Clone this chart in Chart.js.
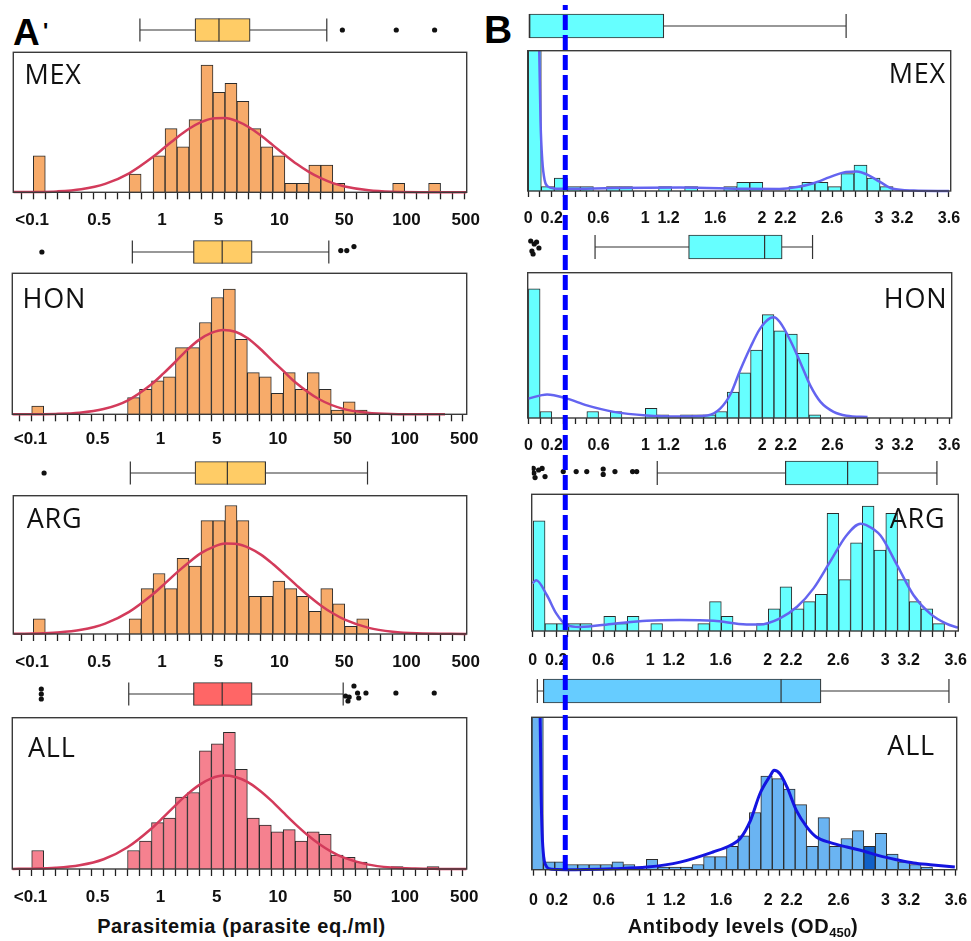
<!DOCTYPE html>
<html>
<head>
<meta charset="utf-8">
<script src="https://cdn.jsdelivr.net/npm/chart.js@4.4.1/dist/chart.umd.min.js"></script>
<style>
    body { margin: 0; background: #fff; }
    #figura { position: relative; width: 971px; height: 941px; overflow: hidden; }
    #figura canvas { position: absolute; }
    .texto { position: absolute; line-height: 1; white-space: nowrap; color: #111; }
    .letra { font-family: 'Liberation Sans', Arial, sans-serif; font-weight: bold; color: #000; }
    .panel { font-family: 'Open Sans', sans-serif; font-size: 27px; letter-spacing: 0.8px; }
    .titulo { font-family: 'Liberation Sans', Arial, sans-serif; font-weight: bold; font-size: 20px; letter-spacing: 0.6px; transform: translateX(-50%); }
    .titulo sub { font-size: 13px; line-height: 0; vertical-align: -4px; letter-spacing: 0; }
</style>
</head>
<body>
<div id="figura">
    <div class="texto letra" style="left:13px; top:13.7px; font-size:37px;">A</div>
    <div class="texto letra" style="left:43px; top:20px; font-size:22px;">'</div>
    <div class="texto letra" style="left:484px; top:10px; font-size:39px;">B</div>
</div>
<script>
// ---- parasitemia histograms (left), one value per bin, bin 0 is "<0.1"
const parasitemiaTickLabels = ['<0.1', '0.5', '1', '5', '10', '50', '100', '500'];
const mexParasitemia = [4, 0, 0, 0, 0, 0, 0, 0, 2, 0, 4, 7, 5, 8, 14, 11, 12, 10, 7, 5, 4, 1, 1, 3, 3, 1, 0, 0, 0, 0, 1, 0, 0, 1, 0, 0, 0];
const honParasitemia = [2, 0, 0, 0, 0, 0, 0, 0, 4, 6, 8, 9, 16, 16, 22, 28, 30, 18, 10, 9, 5, 10, 6, 10, 6, 1, 3, 1, 0, 0, 0, 0, 0, 0, 0, 0, 0];
const argParasitemia = [2, 0, 0, 0, 0, 0, 0, 0, 2, 6, 8, 6, 10, 9, 15, 15, 17, 15, 5, 5, 7, 6, 5, 3, 6, 4, 1, 2, 0, 0, 0, 0, 0, 0, 0, 0, 0];
const allParasitemia = [8, 0, 0, 0, 0, 0, 0, 0, 8, 12, 20, 22, 31, 33, 51, 54, 59, 43, 22, 19, 16, 17, 12, 16, 15, 6, 5, 3, 0, 0, 1, 0, 0, 1, 0, 0, 0];

const mexParasitemiaFitX = [-1.67, 0, 2, 4, 6, 8, 10, 11, 12, 13, 14, 15, 16, 17, 18, 19, 20, 21, 22, 23, 24, 25, 26, 28, 30, 33, 36.18];
const mexParasitemiaFitY = [0.02, 0.03, 0.1, 0.34, 0.93, 2.09, 3.9, 4.98, 6.04, 6.99, 7.72, 8.13, 8.17, 7.83, 7.16, 6.24, 5.19, 4.12, 3.11, 2.25, 1.55, 1.01, 0.64, 0.22, 0.06, 0.01, 0];
const honParasitemiaFitX = [-1.62, 2, 4, 6, 8, 10, 11, 12, 13, 14, 15, 16, 17, 18, 19, 20, 21, 22, 24, 26, 28, 30, 34.5];
const honParasitemiaFitY = [0, 0.09, 0.36, 1.25, 3.3, 7.2, 9.8, 12.6, 15.5, 17.9, 19.5, 20.2, 19.8, 18.3, 15.9, 13.1, 10.4, 7.7, 3.6, 1.3, 0.4, 0.1, 0];
const argParasitemiaFitX = [-1.67, 0, 2, 4, 6, 8, 10, 11, 12, 13, 14, 15, 16, 17, 18, 19, 20, 21, 22, 23, 24, 25, 26, 28, 30, 32, 36.18];
const argParasitemiaFitY = [0.02, 0.06, 0.19, 0.55, 1.38, 2.93, 5.29, 6.7, 8.15, 9.5, 10.7, 11.5, 11.96, 11.9, 11.4, 10.5, 9.26, 7.86, 6.41, 5.02, 3.78, 2.74, 1.9, 0.81, 0.3, 0.09, 0];
const allParasitemiaFitX = [-1.62, 0, 2, 4, 6, 8, 10, 11, 12, 13, 14, 15, 16, 17, 18, 19, 20, 21, 22, 23, 24, 25, 26, 28, 30, 32, 34, 36.31];
const allParasitemiaFitY = [0.04, 0.14, 0.51, 1.6, 4.2, 9.4, 17.5, 22.4, 27.5, 32.3, 36.3, 39.1, 40.3, 39.7, 37.6, 34.0, 29.5, 24.4, 19.4, 14.8, 10.8, 7.5, 5.0, 2.0, 0.65, 0.18, 0.04, 0];

// [whisker low, q1, median, q3, whisker high]
const mexParasitemiaBox = [8.9, 13.5, 15.5, 18.1, 24.5];
const honParasitemiaBox = [8.4, 13.5, 15.9, 18.4, 24.8];
const argParasitemiaBox = [8.1, 13.5, 16.2, 19.4, 27.9];
const allParasitemiaBox = [8.1, 13.5, 15.9, 18.4, 26.0];
const mexParasitemiaOutliers = [25.8, 30.3, 33.5];
const mexParasitemiaJitter = [0, 0, 0];
const honParasitemiaOutliers = [0.85, 25.8, 26.3, 26.9];
const honParasitemiaJitter = [0, 0.07, 0.07, 0.27];
const argParasitemiaOutliers = [0.9];
const argParasitemiaJitter = [0];
const allParasitemiaOutliers = [0.8, 0.8, 0.8, 26.2, 26.4, 26.5, 26.9, 27.2, 27.3, 27.9, 30.4, 33.6];
const allParasitemiaJitter = [0.25, 0, -0.25, -0.1, -0.35, -0.15, 0.4, 0.05, -0.2, 0.05, 0.05, 0.05];

// ---- antibody histograms (right)
const antibodyTickLabels = ['0', '0.2', '0.6', '1', '1.2', '1.6', '2', '2.2', '2.6', '3', '3.2', '3.6'];
const mexAntibody = [45, 1, 3, 1, 1, 0, 1, 1, 0, 0, 1, 0, 1, 0, 0, 1, 2, 2, 0, 0, 1, 2, 2, 1, 4, 6, 3, 1, 0, 0, 0, 0];
const honAntibody = [40, 2, 0, 0, 0, 2, 0, 2, 0, 0, 3, 1, 0, 1, 1, 1, 2, 8, 14, 21, 32, 27, 26, 20, 1, 0, 0, 0, 0, 0, 0, 0, 0, 0, 0, 0];
const argAntibody = [15, 1, 1, 1, 1, 0, 2, 1, 2, 0, 1, 0, 0, 0, 1, 4, 2, 0, 0, 1, 3, 6, 3, 4, 5, 16, 7, 12, 17, 11, 16, 7, 4, 3, 1, 0];
const allAntibody = [100, 3, 3, 2, 2, 2, 2, 3, 2, 0, 4, 1, 1, 1, 2, 5, 5, 9, 13, 22, 36, 35, 31, 25, 9, 20, 9, 12, 15, 9, 14, 6, 3, 2, 1];

const mexAntibodyFitX = [0.06, 0.085, 0.094, 0.105, 0.12, 0.14, 0.17, 0.22, 0.33, 0.73, 1.3, 1.87, 2.15, 2.3, 2.44, 2.58, 2.72, 2.81, 2.9, 3.01, 3.12, 3.3, 3.6];
const mexAntibodyFitY = [80, 50, 32, 16, 7, 2.5, 1.0, 0.6, 0.5, 0.7, 0.8, 0.5, 0.45, 0.9, 1.8, 3.2, 4.4, 4.5, 3.8, 2.1, 0.5, 0.1, 0];
const honAntibodyFitX = [0, 0.16, 0.33, 0.5, 0.73, 1.01, 1.3, 1.53, 1.64, 1.73, 1.81, 1.9, 1.98, 2.07, 2.1, 2.15, 2.24, 2.33, 2.41, 2.5, 2.61, 2.72, 2.9];
const honAntibodyFitY = [6.0, 7.3, 6.0, 3.9, 1.9, 0.8, 0.5, 0.8, 2.9, 7.5, 14.7, 22, 27.6, 31, 31.2, 29.7, 24, 16.8, 10.1, 4.9, 1.9, 0.7, 0.3];
const argAntibodyFitX = [0.0, 0.03, 0.12, 0.2, 0.29, 0.4, 0.69, 0.97, 1.25, 1.54, 1.82, 1.93, 2.1, 2.25, 2.39, 2.53, 2.67, 2.79, 2.84, 2.96, 3.1, 3.24, 3.38, 3.52, 3.62];
const argAntibodyFitY = [6.5, 6.9, 4.9, 2.4, 0.8, 0.55, 1.0, 1.4, 1.5, 1.4, 0.9, 0.9, 1.7, 3.3, 5.8, 9.4, 13.0, 14.6, 14.4, 13.0, 9.0, 4.9, 2.4, 1.0, 0.45];
const allAntibodyFitX = [0.05, 0.058, 0.066, 0.075, 0.088, 0.105, 0.13, 0.2, 0.28, 0.68, 0.97, 1.25, 1.53, 1.68, 1.76, 1.85, 1.93, 2.02, 2.05, 2.1, 2.16, 2.24, 2.33, 2.41, 2.53, 2.67, 2.81, 2.95, 3.1, 3.24, 3.38, 3.59];
const allAntibodyFitY = [100, 58.5, 30, 14, 5, 1.8, 0.4, 0.05, 0, 0.4, 1.0, 2.9, 6.8, 9.4, 11.9, 19, 29.2, 36.3, 38.2, 36.9, 31.8, 22.8, 16.4, 12.6, 10.4, 8.7, 7.2, 5.3, 3.8, 2.6, 1.9, 1.0];

const mexAntibodyBox = [0.01, 0.01, 0.01, 1.16, 2.72];
const honAntibodyBox = [0.57, 1.37, 2.02, 2.17, 2.43];
const argAntibodyBox = [1.06, 2.15, 2.68, 2.94, 3.44];
const allAntibodyBox = [0.034, 0.085, 2.11, 2.45, 3.54];
const honAntibodyOutliers = [0.02, 0.03, 0.05, 0.07, 0.09, 0.04];
const honAntibodyJitter = [0.3, -0.2, 0.15, 0.25, -0.05, -0.35];
const argAntibodyOutliers = [0.005, 0.01, 0.02, 0.05, 0.08, 0.105, 0.26, 0.37, 0.46, 0.6, 0.6, 0.7, 0.85, 0.885];
const argAntibodyJitter = [0.23, 0, -0.23, 0.15, 0.23, -0.18, 0.07, 0.07, 0.07, 0.2, -0.07, 0.07, 0.07, 0.07];

const antibodyCutoff = 0.3165;

Chart.defaults.font.family = 'Liberation Sans';

const figura = document.getElementById('figura');

// marco alrededor del area de dibujo
const marcoPlugin = {
    id: 'marco',
    afterDatasetsDraw: function (chart, args, opts) {
        if (!opts.mostrar) {
            return;
        }
        let a = chart.chartArea;
        let ctx = chart.ctx;
        ctx.save();
        ctx.strokeStyle = '#3a3a3a';
        ctx.lineWidth = 1.4;
        ctx.strokeRect(a.left, a.top, a.right - a.left, a.bottom - a.top);
        ctx.restore();
    }
};

const panelesA = [
    { nombre: 'MEX', conteos: mexParasitemia, ajX: mexParasitemiaFitX, ajY: mexParasitemiaFitY, caja: mexParasitemiaBox, atipicos: mexParasitemiaOutliers, jitter: mexParasitemiaJitter,
      barra: '#F7AB6A', colorCaja: '#FFCC66', yMax: 15.4, marco: [13.3, 466.7, 52.3, 192.3], xMin: -1.67, xMax: 36.18, cajaY: 30, texto: [24.4, 59.5], pad: 11 },
    { nombre: 'HON', conteos: honParasitemia, ajX: honParasitemiaFitX, ajY: honParasitemiaFitY, caja: honParasitemiaBox, atipicos: honParasitemiaOutliers, jitter: honParasitemiaJitter,
      barra: '#F7AB6A', colorCaja: '#FFCC66', yMax: 33.8, marco: [12.3, 466.7, 273.3, 414.3], xMin: -1.62, xMax: 36.31, cajaY: 252, texto: [22.6, 284.2], pad: 8 },
    { nombre: 'ARG', conteos: argParasitemia, ajX: argParasitemiaFitX, ajY: argParasitemiaFitY, caja: argParasitemiaBox, atipicos: argParasitemiaOutliers, jitter: argParasitemiaJitter,
      barra: '#F7AB6A', colorCaja: '#FFCC66', yMax: 18.3, marco: [13.3, 466.7, 495.7, 634], xMin: -1.67, xMax: 36.18, cajaY: 473, texto: [26.7, 504.2], pad: 11 },
    { nombre: 'ALL', conteos: allParasitemia, ajX: allParasitemiaFitX, ajY: allParasitemiaFitY, caja: allParasitemiaBox, atipicos: allParasitemiaOutliers, jitter: allParasitemiaJitter,
      barra: '#F5818F', colorCaja: '#FF6666', yMax: 65.3, marco: [12.3, 466.7, 717.7, 869], xMin: -1.62, xMax: 36.31, cajaY: 694, texto: [28, 733.2], pad: 11 }
];

const panelesB = [
    { nombre: 'MEX', conteos: mexAntibody, inicio: 0, ancho: 0.1115, ajX: mexAntibodyFitX, ajY: mexAntibodyFitY, caja: mexAntibodyBox, atipicos: [], jitter: [],
      barra: '#66FFFF', colorCaja: '#66FFFF', curva: '#6464F0', yMax: 32.4, marco: [527.7, 950.7, 50.7, 191], xMin: -0.005, xMax: 3.615, cajaY: 26, texto: [25, 59.2], pad: 12 },
    { nombre: 'HON', conteos: honAntibody, inicio: 0, ancho: 0.1, ajX: honAntibodyFitX, ajY: honAntibodyFitY, caja: honAntibodyBox, atipicos: honAntibodyOutliers, jitter: honAntibodyJitter,
      barra: '#66FFFF', colorCaja: '#66FFFF', curva: '#6464F0', yMax: 45, marco: [527.7, 951.7, 272.7, 418], xMin: -0.006, xMax: 3.62, cajaY: 247, texto: [23.7, 284.2], pad: 12 },
    { nombre: 'ARG', conteos: argAntibody, inicio: 0.005, ancho: 0.1, ajX: argAntibodyFitX, ajY: argAntibodyFitY, caja: argAntibodyBox, atipicos: argAntibodyOutliers, jitter: argAntibodyJitter,
      barra: '#66FFFF', colorCaja: '#66FFFF', curva: '#6464F0', yMax: 18.6, marco: [531.7, 958.3, 494.3, 631], xMin: -0.0085, xMax: 3.622, cajaY: 473, texto: [25.5, 504.2], pad: 14 },
    { nombre: 'ALL', conteos: allAntibody, inicio: -0.0125, ancho: 0.0975, ajX: allAntibodyFitX, ajY: allAntibodyFitY, caja: allAntibodyBox, atipicos: [], jitter: [],
      barra: '#6AB4F2', colorCaja: '#66CCFF', curva: '#1414E0', resaltado: 29, yMax: 58.6, marco: [531.7, 956.7, 717.3, 869.7], xMin: -0.014, xMax: 3.606, cajaY: 691, texto: [36, 731.2], pad: 15 }
];

function crearCanvas(left, top, width, height) {
    let canvas = document.createElement('canvas');
    canvas.width = width;
    canvas.height = height;
    canvas.style.left = left + 'px';
    canvas.style.top = top + 'px';
    canvas.style.width = width + 'px';
    canvas.style.height = height + 'px';
    figura.appendChild(canvas);
    return canvas;
}

function ticksParasitemia() {
    let lista = [];
    for (let k = -1; k <= 36; k++) {
        lista.push({ value: k, marca: true });
    }
    // posiciones de las etiquetas en unidades de bin
    let sitios = [-0.1, 5.5, 10.75, 15.45, 20.55, 25.95, 31.15, 36.1];
    parasitemiaTickLabels.forEach(function (t, i) {
        lista.push({ value: sitios[i], etiqueta: t, marca: false });
    });
    lista.sort(function (a, b) { return a.value - b.value; });
    return lista;
}

function ticksAnticuerpos() {
    let lista = [];
    for (let k = 0; k <= 36; k++) {
        let v = k / 10;
        let etiqueta = antibodyTickLabels.find(function (t) { return Math.abs(parseFloat(t) - v) < 1e-6; });
        lista.push({ value: v, etiqueta: etiqueta, marca: true });
    }
    return lista;
}

function ejeX(p, lado) {
    return {
        type: 'linear',
        offset: false,
        min: p.xMin,
        max: p.xMax,
        afterBuildTicks: function (escala) {
            escala.ticks = lado === 'A' ? ticksParasitemia() : ticksAnticuerpos();
        },
        afterFit: function (escala) {
            escala.height = 42;
            escala.paddingLeft = 0;
            escala.paddingRight = 0;
        },
        border: { display: false },
        grid: {
            offset: false,
            drawOnChartArea: false,
            tickLength: lado === 'A' ? 7 : 6,
            tickWidth: 1.3,
            tickColor: function (ctx) {
                return ctx.tick && ctx.tick.marca ? '#222' : 'rgba(0,0,0,0)';
            }
        },
        ticks: {
            autoSkip: false,
            maxRotation: 0,
            minRotation: 0,
            padding: p.pad,
            color: '#111',
            font: { family: 'Liberation Sans', weight: 'bold', size: lado === 'A' ? 17 : 16 },
            callback: function (valor, i, ticks) {
                return ticks[i].etiqueta || '';
            }
        }
    };
}

function crearHistograma(p, lado, colLeft, colWidth) {
    let top = Math.floor(p.marco[2]) - 2;
    let padTop = p.marco[2] - top;
    let altoMarco = p.marco[3] - p.marco[2];
    let alto = Math.ceil(padTop + altoMarco + 42);
    let canvas = crearCanvas(colLeft, top, colWidth, alto);

    let inicio = lado === 'A' ? 0 : p.inicio;
    let ancho = lado === 'A' ? 1 : p.ancho;
    let barras = p.conteos.map(function (c, i) {
        return { x: inicio + (i + 0.5) * ancho, y: c };
    });
    let colores = p.conteos.map(function (c, i) {
        return i === p.resaltado ? '#1060C8' : p.barra;
    });
    let curva = p.ajX.map(function (x, i) {
        return { x: x, y: p.ajY[i] };
    });

    new Chart(canvas.getContext('2d'), {
        type: 'bar',
        data: {
            datasets: [{
                type: 'line',
                xAxisID: 'xb',
                data: curva,
                borderColor: lado === 'A' ? '#D33B5B' : p.curva,
                borderWidth: p.nombre === 'ALL' && lado === 'B' ? 3 : 2.5,
                pointRadius: 0,
                cubicInterpolationMode: 'monotone',
                fill: false,
                clip: { left: 0, right: 0, top: 0, bottom: 3 },
                order: 1
            }, {
                type: 'bar',
                xAxisID: 'xb',
                data: barras,
                backgroundColor: colores,
                borderColor: '#2b2b2b',
                borderWidth: 1,
                barPercentage: 1,
                categoryPercentage: 1,
                clip: 0,
                order: 2
            }]
        },
        options: {
            responsive: false,
            animation: false,
            devicePixelRatio: 1,
            layout: {
                padding: {
                    left: p.marco[0] - colLeft,
                    right: colLeft + colWidth - p.marco[1],
                    top: padTop,
                    bottom: alto - (padTop + altoMarco + 42)
                }
            },
            plugins: {
                legend: { display: false },
                tooltip: { enabled: false },
                marco: { mostrar: true }
            },
            scales: {
                x: ejeX(p, lado),
                xb: {
                    type: 'linear',
                    display: false,
                    offset: false,
                    min: p.xMin,
                    max: p.xMax,
                    afterBuildTicks: function (escala) { escala.ticks = []; }
                },
                y: { type: 'linear', display: false, offset: false, min: 0, max: p.yMax }
            }
        },
        plugins: [marcoPlugin]
    });
}

function crearCaja(p, lado, colLeft, colWidth) {
    let top = Math.round(p.cajaY - 20);
    let canvas = crearCanvas(colLeft, top, colWidth, 40);
    let grosor = lado === 'A' ? 23 : 24;
    let h = grosor / 40;
    let c = p.caja;

    let bigotes = [
        { x: c[0], y: 0 }, { x: c[4], y: 0 }, { x: c[4], y: null },
        { x: c[0], y: -h }, { x: c[0], y: h }, { x: c[0], y: null },
        { x: c[4], y: -h }, { x: c[4], y: h }
    ];
    let puntos = p.atipicos.map(function (x, i) {
        return { x: x, y: p.jitter[i] };
    });

    new Chart(canvas.getContext('2d'), {
        type: 'bar',
        data: {
            datasets: [{
                type: 'line',
                data: puntos,
                showLine: false,
                pointRadius: 2.6,
                pointBorderWidth: 0,
                pointBackgroundColor: '#111',
                order: 0
            }, {
                type: 'line',
                data: [{ x: c[2], y: -h }, { x: c[2], y: h }],
                borderColor: '#333',
                borderWidth: 1.2,
                pointRadius: 0,
                order: 1
            }, {
                type: 'bar',
                indexAxis: 'y',
                data: [{ y: 0, x: [c[1], c[3]] }],
                backgroundColor: p.colorCaja,
                borderColor: '#333',
                borderWidth: 1.2,
                borderSkipped: false,
                barThickness: grosor,
                order: 2
            }, {
                type: 'line',
                data: bigotes,
                borderColor: '#333',
                borderWidth: 1.2,
                pointRadius: 0,
                spanGaps: false,
                order: 3
            }]
        },
        options: {
            responsive: false,
            animation: false,
            devicePixelRatio: 1,
            layout: {
                autoPadding: false,
                padding: { left: p.marco[0] - colLeft, right: colLeft + colWidth - p.marco[1], top: 0, bottom: 0 }
            },
            plugins: { legend: { display: false }, tooltip: { enabled: false } },
            scales: {
                x: { type: 'linear', display: false, offset: false, min: p.xMin, max: p.xMax },
                y: { type: 'linear', display: false, offset: false, min: -1, max: 1 }
            }
        }
    });
}

function crearNombre(p, lado) {
    let div = document.createElement('div');
    div.className = 'texto panel';
    div.textContent = p.nombre;
    if (lado === 'A') {
        div.style.left = p.texto[0] + 'px';
    } else {
        div.style.right = p.texto[0] + 'px';
    }
    div.style.top = p.texto[1] + 'px';
    figura.appendChild(div);
}

panelesA.forEach(function (p) {
    crearHistograma(p, 'A', 0, 485);
    crearCaja(p, 'A', 0, 485);
});
panelesB.forEach(function (p) {
    crearHistograma(p, 'B', 485, 486);
    crearCaja(p, 'B', 485, 486);
});

// linea de corte discontinua sobre toda la columna B
let canvasCorte = crearCanvas(485, 0, 486, 941);
new Chart(canvasCorte.getContext('2d'), {
    type: 'line',
    data: {
        datasets: [{
            data: [{ x: antibodyCutoff, y: 0 }, { x: antibodyCutoff, y: 1 }],
            borderColor: '#0000FF',
            borderWidth: 5,
            borderDash: [15, 5],
            pointRadius: 0,
            clip: false
        }]
    },
    options: {
        responsive: false,
        animation: false,
        devicePixelRatio: 1,
        layout: { autoPadding: false, padding: { left: 42.7, right: 20.3, top: 5, bottom: 71 } },
        plugins: { legend: { display: false }, tooltip: { enabled: false } },
        scales: {
            x: { type: 'linear', display: false, min: -0.005, max: 3.615 },
            y: { type: 'linear', display: false, min: 0, max: 1 }
        }
    }
});

panelesA.forEach(function (p) { crearNombre(p, 'A'); });
panelesB.forEach(function (p) { crearNombre(p, 'B'); });

let tituloA = document.createElement('div');
tituloA.className = 'texto titulo';
tituloA.style.left = '241.5px';
tituloA.style.top = '916px';
tituloA.textContent = 'Parasitemia (parasite eq./ml)';
figura.appendChild(tituloA);

let tituloB = document.createElement('div');
tituloB.className = 'texto titulo';
tituloB.style.left = '743px';
tituloB.style.top = '916px';
tituloB.innerHTML = 'Antibody levels (OD<sub>450</sub>)';
figura.appendChild(tituloB);
</script>
</body>
</html>
